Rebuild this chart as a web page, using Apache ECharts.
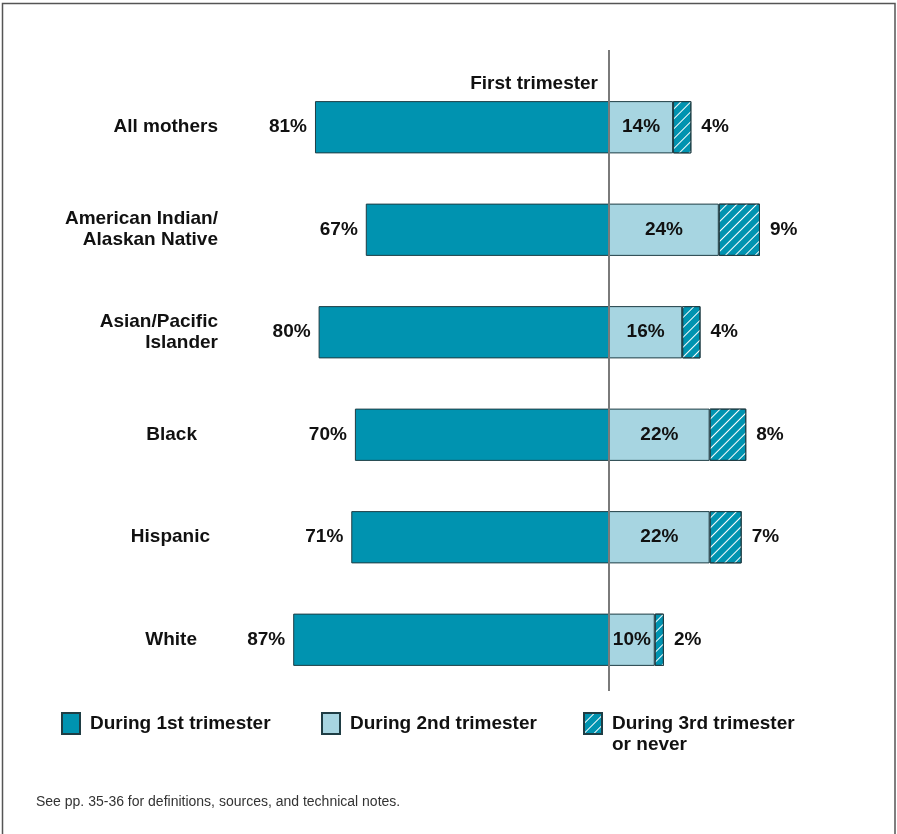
<!DOCTYPE html>
<html>
<head>
<meta charset="utf-8">
<script src="https://cdn.jsdelivr.net/npm/echarts@6/dist/echarts.min.js"></script>
<style>
  html, body { margin: 0; padding: 0; background: #fff; }
  #chart { width: 897px; height: 834px; }
</style>
</head>
<body>
<div id="chart"></div>
<script>
// Timing of prenatal care onset, by race/ethnicity of mother (percent)
const categories = ['All mothers', 'American Indian/\nAlaskan Native', 'Asian/Pacific\nIslander', 'Black', 'Hispanic', 'White'];
const firstTrimester = [81, 67, 80, 70, 71, 87];
const secondTrimester = [14, 24, 16, 22, 22, 10];
const thirdTrimesterOrNever = [4, 9, 4, 8, 7, 2];
const seriesNames = ['During 1st trimester', 'During 2nd trimester', 'During 3rd trimester'];

const TEAL = '#0093b0';
const LIGHT = '#a7d5e1';
const EDGE = '#1f3d44';
const FONT = '"Liberation Sans", Arial, sans-serif';

// extra right padding so a few single-line labels sit a bit further in
const labelShift = { 'Black': 21, 'Hispanic': 8, 'White': 21 };

const chart = echarts.init(document.getElementById('chart'), null, { renderer: 'canvas' });

const valueLabel = {
  show: true,
  fontFamily: FONT,
  fontWeight: 'bold',
  fontSize: 19,
  color: '#111',
  formatter: p => p.value + '%'
};

const hiddenValueAxis = {
  type: 'value',
  min: 0,
  axisLine: { show: false },
  axisTick: { show: false },
  axisLabel: { show: false },
  splitLine: { show: false }
};

const legendBase = {
  orient: 'horizontal',
  top: 712,
  padding: 0,
  itemWidth: 18,
  itemHeight: 21,
  icon: 'rect',
  selectedMode: false,
  textStyle: { fontFamily: FONT, fontWeight: 'bold', fontSize: 19, color: '#111', padding: [0, 0, 0, 5] }
};

const option = {
  animation: false,
  backgroundColor: '#fff',
  grid: [
    { left: 246, right: 288, top: 76, bottom: 143 },
    { left: 609, right: 105, top: 76, bottom: 143 }
  ],
  xAxis: [
    Object.assign({}, hiddenValueAxis, { gridIndex: 0, max: 100, inverse: true }),
    Object.assign({}, hiddenValueAxis, { gridIndex: 1, max: 40 })
  ],
  yAxis: [
    {
      type: 'category', gridIndex: 0, data: categories, inverse: true, position: 'left',
      axisLine: { show: false }, axisTick: { show: false },
      axisLabel: {
        margin: 28,
        align: 'right',
        fontFamily: FONT,
        fontWeight: 'bold',
        fontSize: 19,
        lineHeight: 21,
        color: '#111',
        formatter: v => labelShift[v] ? '{s' + labelShift[v] + '|' + v + '}' : v,
        rich: {
          s21: { fontFamily: FONT, fontWeight: 'bold', fontSize: 19, color: '#111', padding: [0, 21, 0, 0] },
          s8: { fontFamily: FONT, fontWeight: 'bold', fontSize: 19, color: '#111', padding: [0, 8, 0, 0] }
        }
      }
    },
    {
      type: 'category', gridIndex: 1, data: categories, inverse: true,
      axisLine: { show: false }, axisTick: { show: false }, axisLabel: { show: false }
    }
  ],
  legend: [
    Object.assign({}, legendBase, { left: 61, data: [seriesNames[0]] }),
    Object.assign({}, legendBase, { left: 321, data: [seriesNames[1]] }),
    Object.assign({}, legendBase, { left: 583, data: [seriesNames[2]] })
  ],
  series: [
    {
      name: seriesNames[0], type: 'bar', xAxisIndex: 0, yAxisIndex: 0,
      data: firstTrimester, barWidth: '51%',
      itemStyle: { color: TEAL, borderColor: EDGE, borderWidth: 1 },
      label: Object.assign({}, valueLabel, { position: 'left', distance: 8 })
    },
    {
      name: seriesNames[1], type: 'bar', xAxisIndex: 1, yAxisIndex: 1, stack: 'later',
      data: secondTrimester, barWidth: '51%',
      itemStyle: { color: LIGHT, borderColor: EDGE, borderWidth: 1 },
      label: Object.assign({}, valueLabel, { position: 'inside' })
    },
    {
      name: seriesNames[2], type: 'bar', xAxisIndex: 1, yAxisIndex: 1, stack: 'later',
      data: thirdTrimesterOrNever, barWidth: '51%',
      itemStyle: {
        color: TEAL, borderColor: EDGE, borderWidth: 1,
        decal: {
          symbol: 'rect',
          color: '#ffffff',
          backgroundColor: null,
          dashArrayX: [1, 0],
          dashArrayY: [1, 6],
          rotation: -Math.PI / 4
        }
      },
      label: Object.assign({}, valueLabel, { position: 'right', distance: 10 })
    }
  ]
};

chart.setOption(option);

// reference line at zero, its caption, the second legend line, frame and note
const zeroX = chart.convertToPixel({ xAxisIndex: 1 }, 0);
const gridTop = 76;
const gridBottom = 834 - 143;

chart.setOption({
  graphic: [
    {
      type: 'line', z: 100,
      shape: { x1: zeroX, y1: gridTop - 26, x2: zeroX, y2: gridBottom },
      style: { stroke: '#7a7a7a', lineWidth: 2 }
    },
    {
      type: 'text', z: 100,
      x: zeroX - 11, y: 84,
      style: {
        text: 'First trimester', align: 'right', verticalAlign: 'middle',
        font: 'bold 19px ' + FONT, fill: '#111'
      }
    },
    {
      type: 'text',
      x: 612, y: 745,
      style: {
        text: 'or never', align: 'left', verticalAlign: 'middle',
        font: 'bold 19px ' + FONT, fill: '#111'
      }
    },
    {
      type: 'text',
      x: 36, y: 802,
      style: {
        text: 'See pp. 35-36 for definitions, sources, and technical notes.',
        align: 'left', verticalAlign: 'middle',
        font: '14px ' + FONT, fill: '#333'
      }
    },
    {
      type: 'rect', z: 200,
      shape: { x: 2.5, y: 3.5, width: 892.5, height: 850 },
      style: { fill: 'none', stroke: '#555', lineWidth: 1.5 }
    }
  ]
});
</script>
</body>
</html>
